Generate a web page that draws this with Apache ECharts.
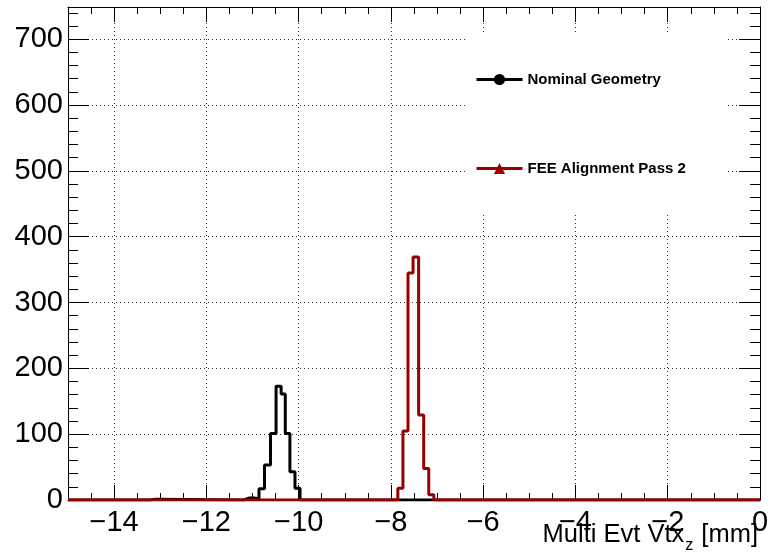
<!DOCTYPE html>
<html lang="en">
<head>
  <meta charset="UTF-8">
  <title>Multi Evt Vtx z</title>
  <script src="https://cdn.jsdelivr.net/npm/echarts@6/dist/echarts.min.js"></script>
  <style>
    html, body { margin: 0; padding: 0; background: #fff; }
  </style>
</head>
<body>
<div id="chart" style="width: 768px;height: 558px"></div>
<script>

  var chart = echarts.init(document.getElementById('chart'));

  // histogram bins: left edges and counts (last edge closes the range)
  var nominalEdges = [-15, -13.22, -13.11, -11.19, -11.08, -10.97, -10.86, -10.74, -10.61, -10.49, -10.38, -10.29, -10.19, -10.08, -9.97, 0];
  var nominalCounts = [0, 1, 0, 3, 3, 2, 17, 53, 101, 173, 161, 101, 43, 18, 0, 0];

  var passEdges = [-15, -7.85, -7.74, -7.63, -7.52, -7.40, -7.29, -7.18, -7.07, 0];
  var passCounts = [0, 18, 105, 345, 369, 129, 48, 8, 0, 0];

  var xMajorTicks = [-14, -12, -10, -8, -6, -4, -2, 0];
  var xMin = -15, xMax = 0;
  var yMin = 0, yMax = 749;

  var font = "'Liberation Sans', Arial, Helvetica, sans-serif";

  function toPairs(edges, counts) {
    var out = [];
    for (var i = 0; i < edges.length; i++) {
      out.push([edges[i], counts[i]]);
    }
    return out;
  }

  function minus(v) {
    return String(v).replace('-', '\u2212');
  }

  var dotted = { color: '#333', width: 1, type: [1, 3] };

  option = {
    animation: false,
    grid: { left: 68, right: 8, top: 7, bottom: 58, containLabel: false, outerBoundsMode: 'none' },
    legend: {
      orient: 'vertical',
      left: 465,
      top: 35,
      padding: [37, 42, 38, 10],
      itemGap: 74,
      itemWidth: 46,
      itemHeight: 14,
      backgroundColor: '#fff',
      lineStyle: { width: 3 },
      textStyle: { fontFamily: font, fontWeight: 'bold', fontSize: 15, color: '#000' },
      data: ['Nominal Geometry', 'FEE Alignment Pass 2']
    },
    xAxis: [
      { // bottom, major ticks, labels, grid
        type: 'value', position: 'bottom', min: xMin, max: xMax,
        axisLine: { onZero: false, lineStyle: { color: '#000', width: 1 } },
        axisTick: { inside: true, length: 15, customValues: xMajorTicks, lineStyle: { color: '#000' } },
        axisLabel: {
          customValues: xMajorTicks, margin: 8, color: '#000', fontSize: 29, fontFamily: font,
          formatter: minus
        },
        splitLine: { show: true, lineStyle: dotted },
        name: '{a|Multi Evt Vtx}{s|z}{a| [mm]}',
        nameLocation: 'end',
        nameGap: -2,
        nameMoveOverlap: false,
        nameTextStyle: {
          align: 'right', verticalAlign: 'top', padding: [21, 0, 0, 0],
          rich: {
            a: { fontSize: 25.5, fontFamily: font, color: '#000', lineHeight: 27, verticalAlign: 'bottom' },
            s: { fontSize: 16, fontFamily: font, color: '#000', lineHeight: 14, verticalAlign: 'bottom', padding: [0, 1, -6, 1] }
          }
        }
      },
      { // bottom, minor ticks
        type: 'value', position: 'bottom', min: xMin, max: xMax, interval: 0.5,
        axisLine: { show: false, onZero: false },
        axisTick: { inside: true, length: 7, lineStyle: { color: '#000' } },
        axisLabel: { show: false },
        splitLine: { show: false }
      },
      { // top frame, major ticks
        type: 'value', position: 'top', min: xMin, max: xMax,
        axisLine: { onZero: false, lineStyle: { color: '#000', width: 1 } },
        axisTick: { inside: true, length: 15, customValues: xMajorTicks, lineStyle: { color: '#000' } },
        axisLabel: { show: false },
        splitLine: { show: false }
      },
      { // top, minor ticks
        type: 'value', position: 'top', min: xMin, max: xMax, interval: 0.5,
        axisLine: { show: false, onZero: false },
        axisTick: { inside: true, length: 7, lineStyle: { color: '#000' } },
        axisLabel: { show: false },
        splitLine: { show: false }
      }
    ],
    yAxis: [
      {
        type: 'value', position: 'left', min: yMin, max: yMax, interval: 100,
        axisLine: { show: true, onZero: false, lineStyle: { color: '#000', width: 1 } },
        axisTick: { show: true, inside: true, length: 21, lineStyle: { color: '#000' } },
        minorTick: { show: true, splitNumber: 5, length: 10, lineStyle: { color: '#000' } },
        axisLabel: { margin: 5, color: '#000', fontSize: 29, fontFamily: font, showMaxLabel: false },
        splitLine: { show: true, lineStyle: dotted }
      },
      {
        type: 'value', position: 'right', min: yMin, max: yMax, interval: 100,
        axisLine: { show: true, onZero: false, lineStyle: { color: '#000', width: 1 } },
        axisTick: { show: true, inside: true, length: 21, lineStyle: { color: '#000' } },
        minorTick: { show: true, splitNumber: 5, length: 10, lineStyle: { color: '#000' } },
        axisLabel: { show: false },
        splitLine: { show: false }
      }
    ],
    series: [
      {
        name: 'Nominal Geometry',
        type: 'line',
        step: 'end',
        symbol: 'circle',
        symbolSize: 10,
        showSymbol: false,
        color: '#000',
        lineStyle: { color: '#000', width: 3 },
        data: toPairs(nominalEdges, nominalCounts)
      },
      {
        name: 'FEE Alignment Pass 2',
        type: 'line',
        step: 'end',
        symbol: 'triangle',
        symbolSize: 10,
        showSymbol: false,
        color: '#990000',
        lineStyle: { color: '#990000', width: 3 },
        data: toPairs(passEdges, passCounts)
      }
    ]
  };

  chart.setOption(option);

</script>
</body>
</html>
